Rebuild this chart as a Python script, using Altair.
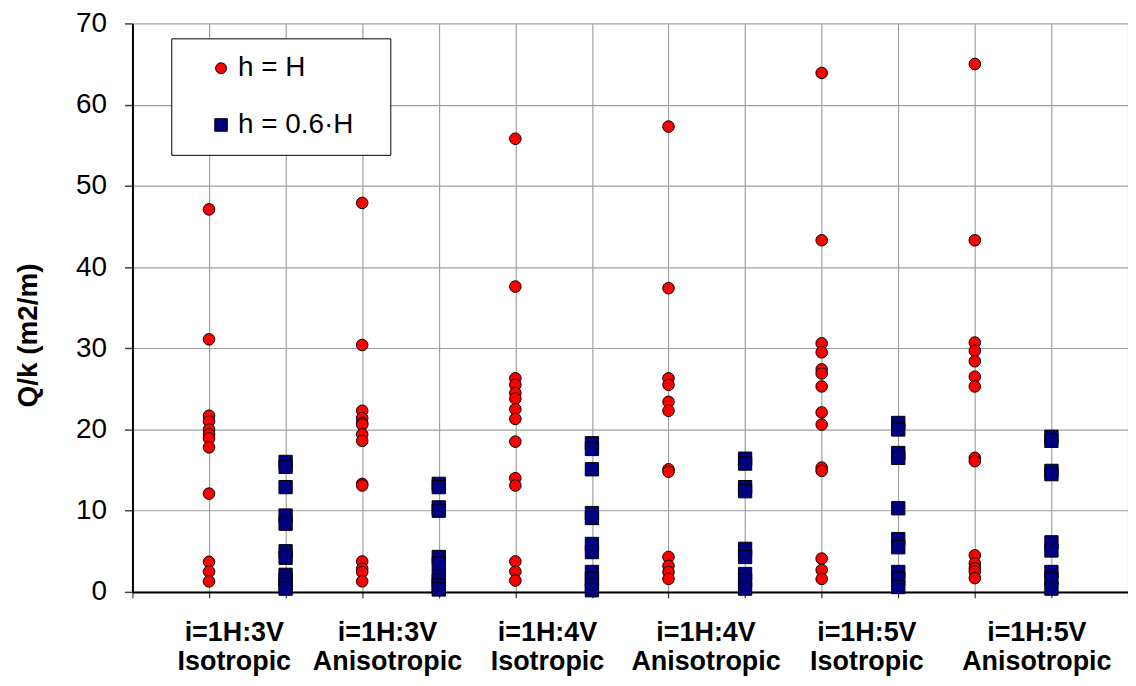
import altair as alt
import pandas as pd

# ---- data ----
series_names = ["h = H", "h = 0.6·H"]
series_colors = ["#ff0000", "#000080"]
series_shapes = ["circle", "M-1.15,-1.15H1.15V1.15H-1.15Z"]

# column positions on the x axis (red = h=H, blue = h=0.6H)
col_x = [1, 2, 3, 4, 5, 6, 7, 8, 9, 10, 11, 12]
col_series = ["h = H", "h = 0.6·H"] * 6

col_values = [
    [47.1, 31.1, 21.7, 21.0, 20.0, 19.4, 18.9, 17.8, 12.1, 3.7, 2.5, 1.3],
    [16.0, 15.4, 12.9, 9.4, 8.4, 5.0, 4.2, 2.1, 1.5, 0.9, 0.4],
    [47.9, 30.4, 22.3, 21.4, 20.8, 20.6, 19.4, 18.6, 13.3, 13.1, 3.75, 2.85, 2.45, 1.3],
    [13.3, 12.9, 10.4, 10.0, 4.3, 3.5, 1.9, 1.4, 0.8, 0.3],
    [55.8, 37.6, 26.3, 25.5, 24.5, 23.8, 22.5, 21.3, 18.5, 14.0, 13.1, 3.75, 2.5, 1.4],
    [18.3, 17.6, 15.1, 9.7, 9.1, 5.9, 4.9, 2.45, 1.6, 0.8, 0.2],
    [57.3, 37.4, 26.3, 25.5, 23.4, 22.3, 15.1, 14.8, 4.3, 3.2, 2.45, 1.6],
    [16.4, 15.8, 12.9, 12.4, 5.3, 4.3, 2.2, 1.4, 0.4],
    [63.9, 43.3, 30.6, 29.5, 27.4, 26.9, 25.3, 22.1, 20.6, 15.3, 14.9, 4.1, 2.7, 1.6],
    [20.8, 20.0, 17.1, 16.5, 10.3, 6.5, 5.5, 2.45, 1.6, 0.6],
    [65.0, 43.3, 30.7, 29.7, 28.4, 26.5, 25.3, 16.5, 16.1, 4.5, 3.5, 2.9, 2.5, 1.7],
    [19.1, 18.6, 14.9, 14.5, 6.1, 5.1, 2.45, 1.6, 0.4],
]

group_labels = [
    "i=1H:3V\nIsotropic",
    "i=1H:3V\nAnisotropic",
    "i=1H:4V\nIsotropic",
    "i=1H:4V\nAnisotropic",
    "i=1H:5V\nIsotropic",
    "i=1H:5V\nAnisotropic",
]
group_label_x = [1.33, 3.33, 5.42, 7.49, 9.59, 11.81]

y_ticks = [0, 10, 20, 30, 40, 50, 60, 70]
x_grid = list(range(0, 14))

# ---- tables ----
rows = []
for xv, s, vals in zip(col_x, col_series, col_values):
    for v in vals:
        rows.append({"x": xv, "value": v, "series": s})
points_df = pd.DataFrame(rows)
labels_df = pd.DataFrame({"lx": group_label_x, "label": group_labels})

FONT = "Liberation Sans"
GRID = "#a0a0a0"

x_scale = alt.Scale(domain=[0, 13], nice=False, zero=False)

legend_common = dict(
    title=None,
    orient="none",
    legendX=39,
    legendY=15,
    fillColor="white",
    strokeColor="black",
    padding=16,
    symbolOffset=20,
    labelOffset=3,
    rowPadding=29,
    labelFont=FONT,
    labelFontSize=28,
    labelColor="black",
    labelLimit=400,
    # a blank braille cell pads the legend frame on the right (invisible)
    labelExpr="datum.label + '\u2800'",
    symbolSize=120,
    symbolStrokeColor="black",
    symbolStrokeWidth=1,
)

points = alt.Chart(points_df).mark_point(
    filled=True, size=135, stroke="black", strokeWidth=1, opacity=1
).encode(
    x=alt.X(
        "x:Q",
        scale=x_scale,
        axis=alt.Axis(
            values=x_grid,
            labels=False,
            title=None,
            grid=True,
            gridColor=GRID,
            gridWidth=1.2,
            ticks=True,
            tickSize=6,
            tickColor="#333333",
            tickWidth=1.2,
            domainColor="black",
            domainWidth=2,
        ),
    ),
    y=alt.Y(
        "value:Q",
        scale=alt.Scale(domain=[0, 70], nice=False),
        axis=alt.Axis(
            values=y_ticks,
            title="Q/k (m2/m)",
            titleFont=FONT,
            titleFontSize=28,
            titleFontWeight="bold",
            titleColor="black",
            titleAngle=270,
            titleAlign="center",
            titleBaseline="middle",
            titleX=-104,
            titleY=313,
            labelFont=FONT,
            labelFontSize=28,
            labelColor="black",
            labelPadding=18,
            tickSize=8,
            tickColor="#444444",
            tickWidth=1.5,
            grid=True,
            gridColor=GRID,
            gridWidth=1.2,
            domainColor="black",
            domainWidth=2,
        ),
    ),
    color=alt.Color(
        "series:N",
        scale=alt.Scale(domain=series_names, range=series_colors),
        legend=alt.Legend(**legend_common),
    ),
    shape=alt.Shape(
        "series:N",
        scale=alt.Scale(domain=series_names, range=series_shapes),
        legend=alt.Legend(**legend_common),
    ),
)

labels = alt.Chart(labels_df).mark_text(
    font=FONT,
    fontSize=27,
    fontWeight="bold",
    color="black",
    align="center",
    baseline="alphabetic",
    lineBreak="\n",
    lineHeight=29,
).encode(
    x=alt.X("lx:Q", scale=x_scale),
    y=alt.value(620),
    text="label:N",
)

chart = alt.layer(points, labels).properties(
    width=1000,
    height=571,
    autosize=alt.AutoSizeParams(type="none"),
    padding={"left": 125, "top": 14, "right": 0, "bottom": 85},
    background="white",
).configure_view(stroke=None)

chart.save("out.html", embed_options={"renderer": "svg", "actions": False})
